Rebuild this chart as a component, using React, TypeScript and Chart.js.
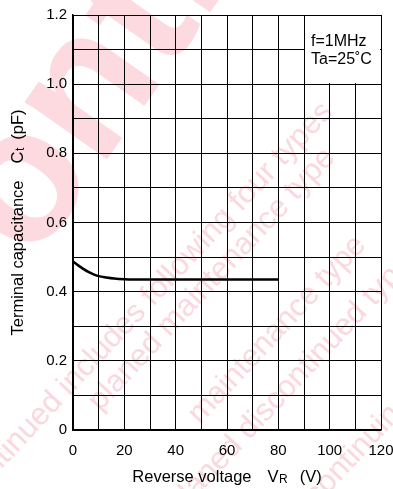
import { useEffect, useRef } from "react";
import { Chart, registerables } from "chart.js";

Chart.register(...registerables);

// ---- data ----
const voltage = [0, 2, 4, 6, 8, 10, 13, 16, 20, 30, 40, 50, 60, 70, 80];
const capacitance = [0.487, 0.476, 0.466, 0.457, 0.45, 0.445, 0.441, 0.438, 0.436, 0.435, 0.435, 0.435, 0.435, 0.435, 0.435];
const xTickLabels = ["0", "20", "40", "60", "80", "100", "120"];
const yTickLabels = ["0", "0.2", "0.4", "0.6", "0.8", "1.0", "1.2"];
const legendLines = ["f=1MHz", "Ta=25˚C"];
const xTitleParts = ["Reverse voltage", "V", "R", "(V)"];
const yTitleParts = ["Terminal capacitance", "C", "t", "(pF)"];
const watermarkLines = [
  "discontinued includes following four types",
  "planed maintenance type",
  "maintenance type",
  "planed discontinued typ",
  "discontinuing typ",
];
const watermarkBig = "ontinued";

const FONT = '"Liberation Sans", Arial, Helvetica, sans-serif';

type Seg = { text: string; size: number; gap: number; dy: number };

function drawSegments(ctx: CanvasRenderingContext2D, segs: Seg[], cx: number, baseline: number) {
  let total = 0;
  const widths: number[] = [];
  for (const s of segs) {
    ctx.font = `${s.size}px ${FONT}`;
    const w = ctx.measureText(s.text).width;
    widths.push(w);
    total += s.gap + w;
  }
  let x = cx - total / 2;
  segs.forEach((s, i) => {
    ctx.font = `${s.size}px ${FONT}`;
    x += s.gap;
    ctx.fillText(s.text, x, baseline + s.dy);
    x += widths[i];
  });
}

const legendBoxPlugin = {
  id: "legendBox",
  beforeDatasetsDraw(chart: any) {
    const { ctx, scales } = chart;
    const xs = scales.x;
    const ys = scales.y;
    const x0 = xs.getPixelForValue(90);
    const x1 = xs.getPixelForValue(120);
    const y0 = ys.getPixelForValue(1.2);
    const y1 = ys.getPixelForValue(1.0);
    ctx.save();
    ctx.fillStyle = "#fff";
    ctx.fillRect(x0 + 1, y0 + 1, x1 - x0 - 2, y1 - y0 - 2);
    ctx.fillStyle = "#000";
    ctx.font = `16px ${FONT}`;
    ctx.textBaseline = "alphabetic";
    ctx.textAlign = "left";
    ctx.fillText(legendLines[0], x0 + 7, y0 + 31);
    ctx.fillText(legendLines[1], x0 + 7, y0 + 49);
    ctx.restore();
  },
};

const titlesPlugin = {
  id: "axisTitles",
  afterDraw(chart: any) {
    const { ctx, chartArea } = chart;
    ctx.save();
    ctx.fillStyle = "#000";
    ctx.textAlign = "left";
    ctx.textBaseline = "alphabetic";
    const cx = (chartArea.left + chartArea.right) / 2;
    drawSegments(
      ctx,
      [
        { text: xTitleParts[0], size: 16.5, gap: 0, dy: 0 },
        { text: xTitleParts[1], size: 16.5, gap: 16, dy: 0 },
        { text: xTitleParts[2], size: 12, gap: 0.5, dy: 1 },
        { text: xTitleParts[3], size: 16.5, gap: 12, dy: 0 },
      ],
      cx,
      chartArea.bottom + 52
    );
    const cy = (chartArea.top + chartArea.bottom) / 2;
    ctx.translate(17, cy);
    ctx.rotate(-Math.PI / 2);
    drawSegments(
      ctx,
      [
        { text: yTitleParts[0], size: 16.5, gap: 0, dy: 0 },
        { text: yTitleParts[1], size: 16.5, gap: 17, dy: 0 },
        { text: yTitleParts[2], size: 12, gap: 0.5, dy: 1 },
        { text: yTitleParts[3], size: 16.5, gap: 8, dy: 0 },
      ],
      0,
      6
    );
    ctx.restore();
  },
};

const watermarkPlugin = {
  id: "watermark",
  beforeDraw(chart: any) {
    const { ctx } = chart;
    ctx.save();
    ctx.fillStyle = "#fff";
    ctx.fillRect(0, 0, chart.width, chart.height);
    ctx.restore();
  },
  afterDraw(chart: any) {
    const { ctx } = chart;
    ctx.save();
    ctx.globalCompositeOperation = "multiply";
    // big faint letters
    ctx.save();
    ctx.fillStyle = "rgb(252, 218, 224)";
    ctx.translate(33, 265);
    ctx.rotate(-55 * Math.PI / 180);
    ctx.font = `bold 190px ${FONT}`;
    ctx.fillText(watermarkBig, 0, 0);
    ctx.restore();
    // diagonal lines of text
    ctx.fillStyle = "rgb(251, 216, 223)";
    ctx.font = `31px ${FONT}`;
    const starts = [
      [-55, 530],
      [100, 412],
      [200, 425],
      [180, 515],
      [290, 535],
    ];
    watermarkLines.forEach((t, i) => {
      ctx.save();
      ctx.translate(starts[i][0], starts[i][1]);
      ctx.rotate(-47 * Math.PI / 180);
      ctx.fillText(t, 0, 0);
      ctx.restore();
    });
    ctx.restore();
  },
};

export default function App() {
  const ref = useRef<HTMLCanvasElement | null>(null);

  useEffect(() => {
    document.body.style.margin = "0";
    const canvas = ref.current;
    if (!canvas) return;
    const chart = new Chart(canvas, {
      type: "line",
      data: {
        datasets: [
          {
            data: voltage.map((v, i) => ({ x: v, y: capacitance[i] })),
            borderColor: "#000",
            borderWidth: 2.5,
            pointRadius: 0,
            fill: false,
            cubicInterpolationMode: "monotone",
          },
        ],
      },
      options: {
        responsive: false,
        animation: false,
        devicePixelRatio: 1,
        layout: { padding: { top: 15, right: 12, left: 0, bottom: 0 } },
        plugins: {
          legend: { display: false },
          tooltip: { enabled: false },
          title: { display: false },
        },
        scales: {
          x: {
            type: "linear",
            min: 0,
            max: 120,
            ticks: {
              stepSize: 10,
              autoSkip: false,
              maxRotation: 0,
              padding: 12,
              color: "#000",
              font: { family: FONT, size: 15 },
              callback: (v: any) => {
                const n = Math.round(Number(v));
                return n % 20 === 0 ? xTickLabels[n / 20] : "";
              },
            },
            grid: { color: "#000", lineWidth: 1, drawTicks: false },
            border: { color: "#000", width: 1.5 },
            afterFit: (s: any) => {
              s.height = 59;
              s.paddingRight = 0;
              s.paddingLeft = 0;
            },
          },
          y: {
            type: "linear",
            min: 0,
            max: 1.2,
            ticks: {
              stepSize: 0.1,
              autoSkip: false,
              padding: 6,
              color: "#000",
              font: { family: FONT, size: 15 },
              callback: (v: any) => {
                const i = Math.round(Number(v) * 10);
                return i % 2 === 0 ? yTickLabels[i / 2] : "";
              },
            },
            grid: { color: "#000", lineWidth: 1, drawTicks: false },
            border: { color: "#000", width: 1.5 },
            afterFit: (s: any) => {
              s.width = 73;
              s.paddingTop = 0;
              s.paddingBottom = 0;
            },
          },
        },
      } as any,
      plugins: [watermarkPlugin, legendBoxPlugin, titlesPlugin],
    });
    return () => chart.destroy();
  }, []);

  return (
    <div style={{ width: 393, height: 489 }}>
      <canvas ref={ref} width={393} height={489} style={{ display: "block" }} />
    </div>
  );
}
